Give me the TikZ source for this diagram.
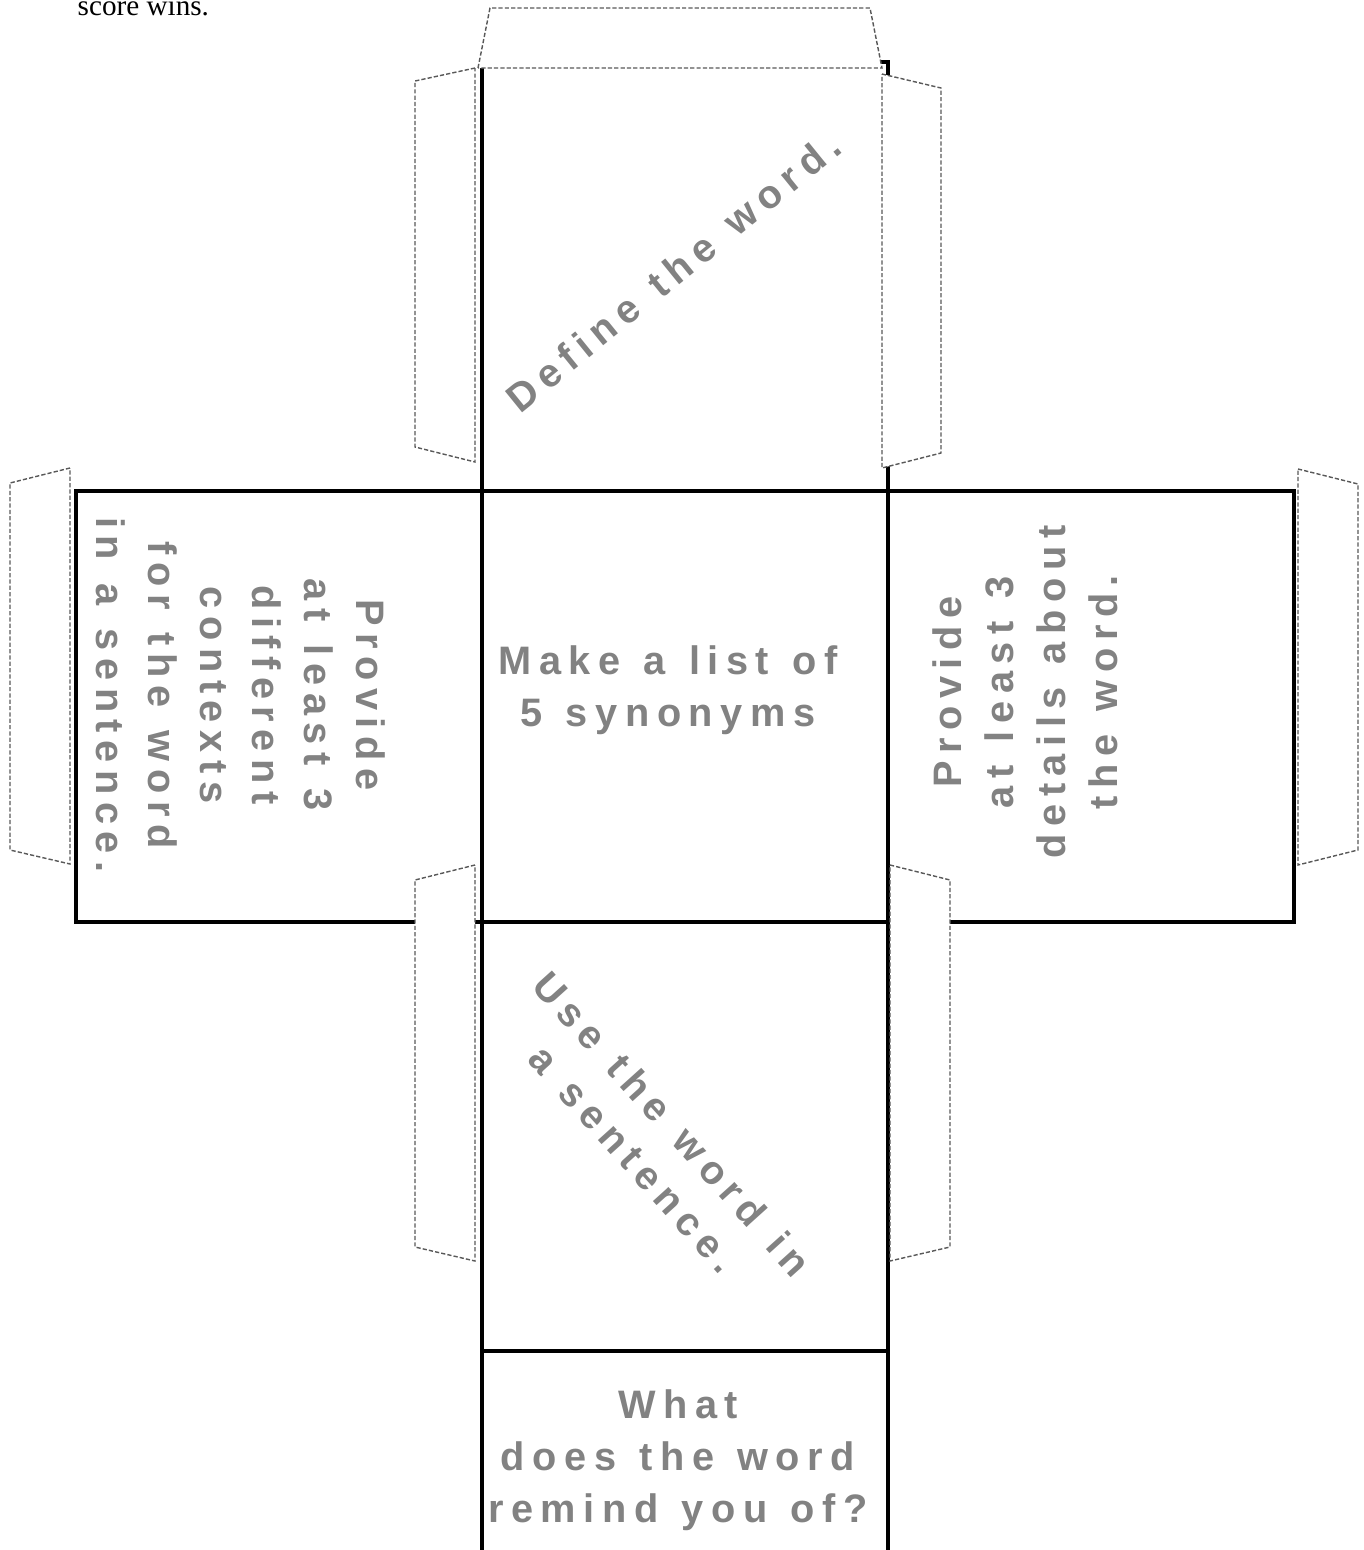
\documentclass[tikz,border=0pt]{standalone}
\usepackage{fontspec}
\usepackage{xcolor}
\usetikzlibrary{positioning}
\setmainfont{Liberation Serif}
\newfontfamily\cubefont[LetterSpace=19, WordSpace=1.25]{Liberation Sans}
\definecolor{wordgray}{RGB}{130,130,130}

\begin{document}
\begin{tikzpicture}[
    x=0.01cm, y=-0.01cm,
    face/.style={draw=black, line width=1.1pt},
    tab/.style={draw=black!65, fill=white, line width=0.4pt, dash pattern=on 1.2pt off 0.6pt},
    say/.style={font=\cubefont\bfseries\fontsize{11.3}{14.8}\selectfont, text=wordgray, align=center, inner sep=0pt}
]
\useasboundingbox (0,0) rectangle (1364,1550);

% Note left over from the page
\node[font=\fontsize{8.3}{10}\selectfont, anchor=base west, inner sep=0pt] (note) at (77,15) {score wins.};

% Faces
\draw[face] (482,62) rectangle (888,491);
\draw[face] (76,491) rectangle (1294,922);
\draw[face] (482,491) -- (482,1560) (888,491) -- (888,1560);
\draw[face] (482,1351) -- (888,1351);

% Glue tabs
\draw[tab] (478,68) -- (490,8) -- (870,8) -- (882,68) -- cycle;
\draw[tab] (475,68) -- (415,81) -- (415,447) -- (475,462) -- cycle;
\draw[tab] (882,74) -- (941,88) -- (941,453) -- (882,468) -- cycle;
\draw[tab] (70,468) -- (10,483) -- (10,850) -- (70,864) -- cycle;
\draw[tab] (1298,469) -- (1358,484) -- (1358,850) -- (1298,865) -- cycle;
\draw[tab] (475,865) -- (415,880) -- (415,1247) -- (475,1261) -- cycle;
\draw[tab] (890,865) -- (950,880) -- (950,1247) -- (890,1261) -- cycle;

% Face texts
\node[say, rotate=39] (define) at (673,272) {Define the word.};
\node[say, rotate=-90] (contexts) at (241,695) {Provide\\at least 3\\different\\contexts\\for the word\\in a sentence.};
\node[say] (synonyms) at (668,690) {Make a list of\\5 synonyms};
\node[say, rotate=90] (details) at (1025,692) {Provide\\at least 3\\details about\\the word.};
\node[say, rotate=-48] (sentence) at (653,1141) {Use the word in\\a sentence.};
\node[say] (remind) at (678,1460) {What\\does the word\\remind you of?};

\end{tikzpicture}
\end{document}
